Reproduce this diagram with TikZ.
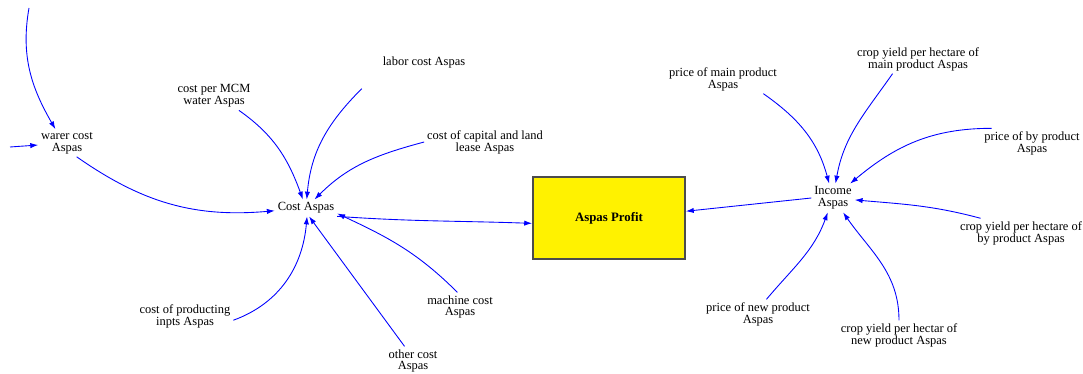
\documentclass[tikz,border=0pt]{standalone}
\usepackage{fontspec}
\setmainfont{Liberation Serif}
\usetikzlibrary{arrows.meta,calc}

\begin{document}
\begin{tikzpicture}[x=0.02cm,y=0.02cm,
	var/.style={align=center,font=\fontsize{7.1}{6.8}\selectfont,inner sep=1.5pt},
	link/.style={-{Latex[length=4.5pt,width=3pt]},blue,line width=0.5pt},
	stock/.style={draw=black!70,line width=1pt,fill=yellow,minimum width=3.04cm,minimum height=1.64cm,font=\fontsize{7.3}{8}\selectfont\bfseries}]
	%frame
	\useasboundingbox (0,0) rectangle (1083,-374);
	
	%profit box
	\node[stock] (profit) at (609,-218) {Aspas Profit};
	
	%cost side
	\node[var] (cost)    at (306,-208) {Cost Aspas};
	\node[var] (wcost)   at (67,-143)  {warer cost\\Aspas};
	\node[var] (cpm)     at (214,-96)  {cost per MCM\\water Aspas};
	\node[var] (labor)   at (424,-63)  {labor cost Aspas};
	\node[var] (capital) at (485,-142) {cost of capital and land\\lease Aspas};
	\node[var] (inputs)  at (185,-316) {cost of producting\\inpts Aspas};
	\node[var] (other)   at (413,-361) {other cost\\Aspas};
	\node[var] (machine) at (460,-307) {machine cost\\Aspas};
	
	%income side
	\node[var] (income) at (833,-198)  {Income\\Aspas};
	\node[var] (pmain)  at (723,-79)   {price of main product\\Aspas};
	\node[var] (cymain) at (918,-59)   {crop yield per hectare of\\main product Aspas};
	\node[var] (pby)    at (1032,-143) {price of by product\\Aspas};
	\node[var] (cyby)   at (1021,-233) {crop yield per hectare of\\by product Aspas};
	\node[var] (pnew)   at (758,-314)  {price of new product\\Aspas};
	\node[var] (cynew)  at (899,-335)  {crop yield per hectar of\\new product Aspas};
	
	%free ends
	\coordinate (wtop)  at (29,-8);
	\coordinate (wleft) at (10,-147);
	
	%arrows into cost
	\draw[link] (wtop) to[out=-100,in=120] (wcost.130);
	\draw[link] (wleft) -- (wcost);
	\draw[link] (wcost.-55) to[out=-35,in=185] (cost);
	\draw[link] (cpm.-30) to[out=-35,in=110] (cost);
	\draw[link] ($(labor.south west)+(-18,-17)$) to[out=-135,in=85] (cost);
	\draw[link] (capital.west) to[out=-165,in=45] (cost);
	\draw[link] (machine.100) to[out=135,in=-25] (cost.-10);
	\draw[link] (other.120) -- (cost.-70);
	\draw[link] (inputs.-5) to[out=20,in=-95] (cost.-83);
	
	%arrows into income
	\draw[link] (pmain.-20) to[out=-35,in=105] (income);
	\draw[link] (cymain.-150) to[out=-125,in=80] (income);
	\draw[link] (pby.160) to[out=180,in=40] (income);
	\draw[link] (cyby.160) to[out=165,in=-5] (income);
	\draw[link] (pnew.60) to[out=50,in=-110] (income);
	\draw[link] (cynew.north) to[out=90,in=-55] (income);
	
	%arrows into profit
	\draw[link] (cost.-15) to[out=-4,in=178] (profit.184);
	\draw[link] (income.west) -- (profit.5);
\end{tikzpicture}
\end{document}
